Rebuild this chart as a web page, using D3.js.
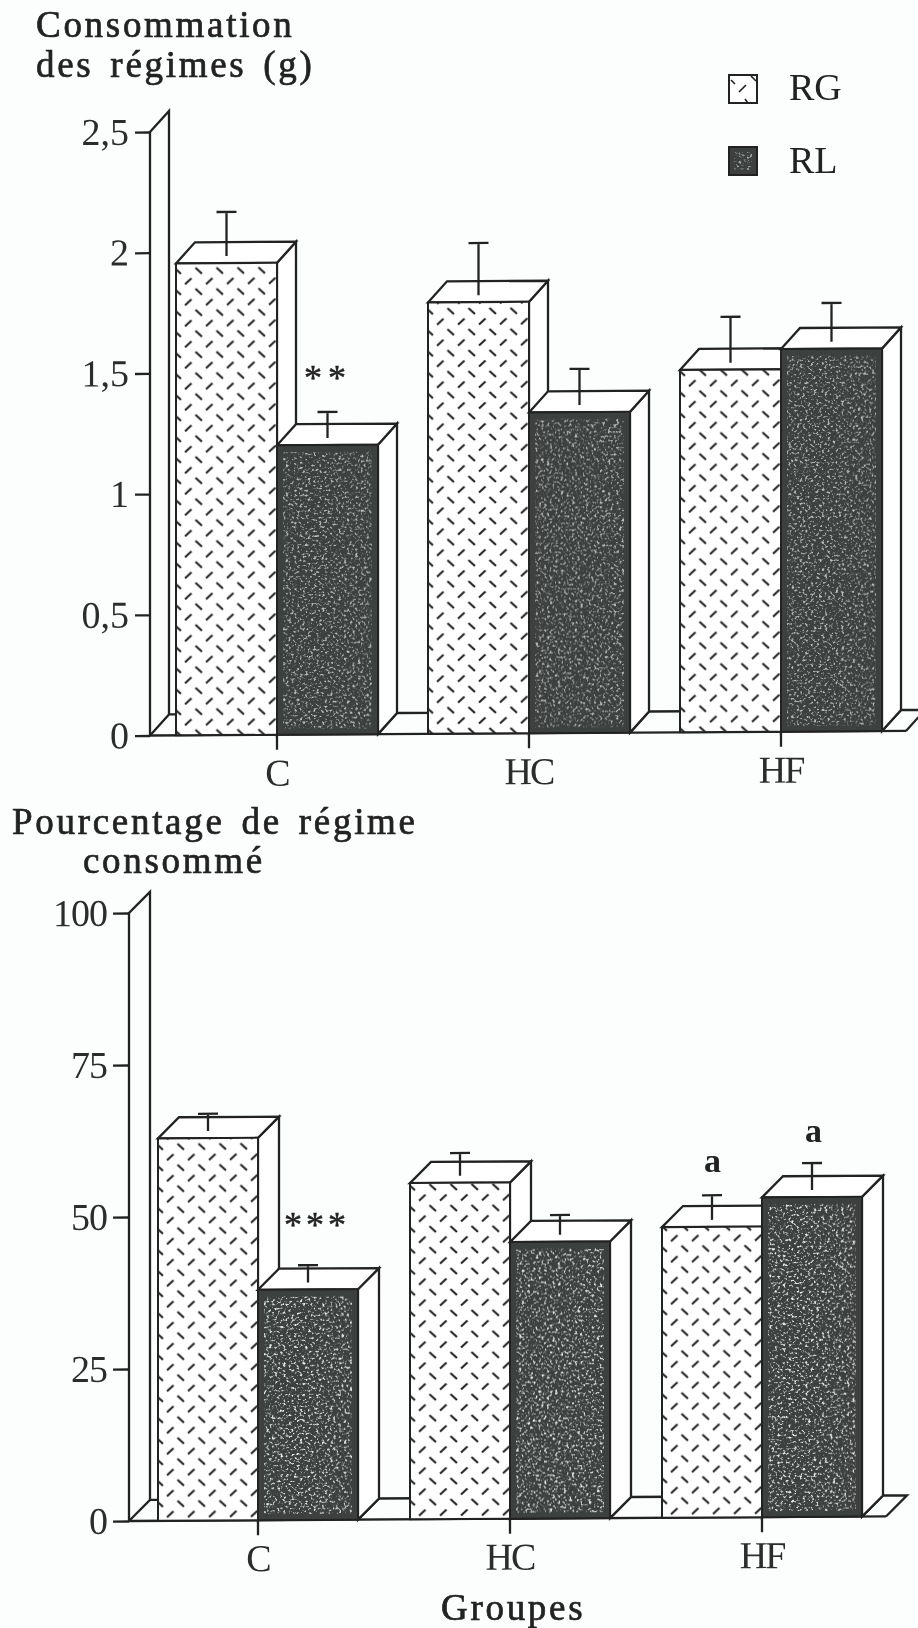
<!DOCTYPE html>
<html>
<head>
<meta charset="utf-8">
<script src="https://cdn.jsdelivr.net/npm/d3@7"></script>
<style>
html, body { margin: 0; padding: 0; background: #fcfefe; }
svg { display: block; filter: blur(0.45px); }
text { font-family: "Liberation Serif", serif; fill: #222; }
.title { font-size: 37px; letter-spacing: 2.7px; stroke: #222; stroke-width: 0.7px; }
.tick text { font-family: "Liberation Serif", serif; font-size: 38px; fill: #2c2c2c; }
.x-axis .tick text { letter-spacing: -2px; }
.tick line { stroke: #222; stroke-width: 2.3px; }
.wire { fill: none; stroke: #222; stroke-width: 2.3px; stroke-linejoin: miter; }
.stars { font-size: 36px; stroke: #222; stroke-width: 0.5px; }
.mark { font-size: 34px; font-weight: bold; }
</style>
</head>
<body>
<svg id="chart" width="918" height="1628"></svg>
<script>
let groups = ['C', 'HC', 'HF']
let series = ['RG', 'RL']

// values
let intakeRG = [1.955, 1.787, 1.501]
let intakeRL = [1.199, 1.329, 1.585]
let intakeRGErr = [2.167, 2.032, 1.72]
let intakeRLErr = [1.336, 1.508, 1.775]
let intakeTicks = [0, 0.5, 1, 1.5, 2, 2.5]

let percentRG = [62.9, 55.3, 47.8]
let percentRL = [37.9, 45.5, 52.6]
let percentRGErr = [66.9, 60.2, 53]
let percentRLErr = [41.9, 49.9, 58.2]
let percentTicks = [0, 25, 50, 75, 100]

let svg = d3.select('#chart')
let defs = svg.append('defs')

// scan slope: the baseline climbs slightly to the right
let slope = 0.006

let specks = defs.append('filter')
    .attr('id', 'specks')
    .attr('x', 0).attr('y', 0).attr('width', 1).attr('height', 1)
specks.append('feTurbulence')
    .attr('type', 'fractalNoise')
    .attr('baseFrequency', '0.36 0.44')
    .attr('numOctaves', 2)
    .attr('seed', 7)
specks.append('feColorMatrix')
    .attr('values', '0 0 0 0 0.88  0 0 0 0 0.9  0 0 0 0 0.9  5 0 0 0 -2.7')
specks.append('feGaussianBlur').attr('stdDeviation', 0.35)
specks.append('feComposite')
    .attr('in2', 'SourceAlpha')
    .attr('operator', 'in')

function hatch(id, ox, oy) {
    let p = defs.append('pattern')
        .attr('id', id)
        .attr('patternUnits', 'userSpaceOnUse')
        .attr('x', ox).attr('y', oy)
        .attr('width', 21).attr('height', 21)
    p.append('rect').attr('width', 21).attr('height', 21).attr('fill', '#fff')
    p.append('path')
        .attr('d', 'M2 8.5L8.5 2.5M12.5 13L19 19')
        .attr('stroke', '#222')
        .attr('stroke-width', 2.1)
        .attr('fill', 'none')
}

function drawPanel(cfg) {
    let id = cfg.id
    hatch('hatch-' + id, cfg.hatchX, cfg.hatchY)

    let x0 = d3.scaleBand().domain(groups).range(cfg.xRange)
    let x1 = d3.scaleBand().domain(series).range([-cfg.barW, cfg.barW])
    let y = d3.scaleLinear().domain(cfg.yDomain).range(cfg.yRange)
    let base = y(0)
    let dx = cfg.dx, dy = cfg.dy
    let left = cfg.axisX

    let g = svg.append('g')
        .attr('transform', `matrix(1,${-slope},0,1,0,${slope * left})`)

    // wall and floor
    let top = y(cfg.yDomain[1])
    g.append('path').attr('class', 'wire')
        .attr('d', `M${left} ${base}V${top}L${left + dx} ${top - dy}V${base - dy}M${left} ${base}L${left + dx} ${base - dy}H${left + dx + 8}`)

    let rows = []
    groups.forEach((grp, i) => {
        rows.push({group: grp, s: 'RG', v: cfg.rg[i], e: cfg.rgErr[i]})
        rows.push({group: grp, s: 'RL', v: cfg.rl[i], e: cfg.rlErr[i]})
    })
    let xOf = d => x0(d.group) + x0.bandwidth() / 2 + x1(d.s)
    let w = x1.bandwidth()

    // floor strips between the groups, closed after the last one
    groups.forEach((grp, i) => {
        let r = x0(grp) + x0.bandwidth() / 2 + cfg.barW
        let strip = `M${r} ${base}L${r + dx} ${base - dy}`
        strip += i < groups.length - 1 ? 'H' + (r + dx + 40) : `H${r + dx + 24}L${r + 24} ${base}`
        g.append('path').attr('class', 'wire').attr('d', strip)
    })

    g.append('line').attr('class', 'wire')
        .attr('x1', left).attr('x2', x0(groups[2]) + x0.bandwidth() / 2 + cfg.barW + 24)
        .attr('y1', base).attr('y2', base)

    let bars = g.selectAll('g.bar').data(rows).enter().append('g').attr('class', 'bar')

    // side face
    bars.append('path').attr('class', 'wire').style('fill', '#fff')
        .attr('d', d => `M${xOf(d) + w} ${base}L${xOf(d) + w + dx} ${base - dy}V${y(d.v) - dy}L${xOf(d) + w} ${y(d.v)}Z`)
    // top face
    bars.append('path').attr('class', 'wire').style('fill', '#fff')
        .attr('d', d => `M${xOf(d)} ${y(d.v)}L${xOf(d) + dx} ${y(d.v) - dy}H${xOf(d) + w + dx}L${xOf(d) + w} ${y(d.v)}Z`)
    // front face
    bars.append('rect')
        .attr('x', d => xOf(d))
        .attr('y', d => y(d.v))
        .attr('width', w)
        .attr('height', d => base - y(d.v))
        .attr('fill', d => d.s === 'RG' ? `url(#hatch-${id})` : '#3c413f')
        .attr('stroke', '#222')
        .attr('stroke-width', 2)
    bars.filter(d => d.s === 'RL').append('rect')
        .attr('x', d => xOf(d) + 6)
        .attr('y', d => y(d.v) + 7)
        .attr('width', w - 12)
        .attr('height', d => base - y(d.v) - 13)
        .attr('fill', '#fff')
        .attr('opacity', cfg.speckOpacity)
        .attr('filter', 'url(#specks)')

    // error bars
    bars.append('path').attr('class', 'wire')
        .attr('d', d => {
            let c = xOf(d) + w / 2
            return `M${c} ${y(d.v) - 7}V${y(d.e)}M${c - 10} ${y(d.e)}H${c + 10}`
        })

    // axes
    let yAxis = d3.axisLeft(y)
        .tickValues(cfg.ticks)
        .tickSize(cfg.tickLen)
        .tickPadding(6)
        .tickFormat(d => String(d).replace('.', ','))
    g.append('g').attr('class', 'y-axis')
        .attr('transform', `translate(${left},0)`)
        .call(yAxis)
        .call(a => a.select('.domain').remove())
        .call(a => a.selectAll('text').style('letter-spacing', cfg.tickSpacing))

    let xAxis = d3.axisBottom(x0).tickSize(15).tickPadding(9)
    g.append('g').attr('class', 'x-axis')
        .attr('transform', `translate(0,${base})`)
        .call(xAxis)
        .call(a => a.select('.domain').remove())
}

drawPanel({
    id: 'a', rg: intakeRG, rl: intakeRL, rgErr: intakeRGErr, rlErr: intakeRLErr, ticks: intakeTicks,
    xRange: [151, 907], axisX: 150, barW: 101,
    yDomain: [0, 2.5], yRange: [735.5, 132],
    dx: 19, dy: 21, tickLen: 15, tickSpacing: '0px', speckOpacity: 0.7, hatchX: 183, hatchY: 276
})
drawPanel({
    id: 'b', rg: percentRG, rl: percentRL, rgErr: percentRGErr, rlErr: percentRLErr, ticks: percentTicks,
    xRange: [132, 888], axisX: 129, barW: 100,
    yDomain: [0, 100], yRange: [1521, 913],
    dx: 21, dy: 21, tickLen: 16, tickSpacing: '-1px', speckOpacity: 0.95, hatchX: 165, hatchY: 1152
})

function label(txt, x, y, cls) {
    return svg.append('text').attr('class', cls || 'title').attr('x', x).attr('y', y).text(txt)
}

label('Consommation', 36, 37)
label('des régimes (g)', 36, 77).style('word-spacing', '5px')
label('Pourcentage de régime', 12, 834).style('word-spacing', '5px')
label('consommé', 83, 873)
label('Groupes', 441, 1620)

// legend
let legendBoxes = [['RG', 75, 100], ['RL', 147, 173]]
legendBoxes.forEach(([name, by, ty]) => {
    svg.append('rect')
        .attr('x', 729).attr('y', by).attr('width', 28).attr('height', 28)
        .attr('fill', name === 'RG' ? '#fff' : '#3c413f')
        .attr('stroke', '#222').attr('stroke-width', 2)
    svg.append('text').attr('x', 789).attr('y', ty)
        .style('font-size', '38px').text(name)
})
svg.append('rect')
    .attr('x', 734).attr('y', 152).attr('width', 18).attr('height', 18)
    .attr('fill', '#fff').attr('opacity', 0.6).attr('filter', 'url(#specks)')
svg.append('path').attr('class', 'wire').style('stroke-width', 1.6)
    .attr('d', 'M739 92L746 85M731 80L735 84M751 76L756 81M748 103L745 99')

// significance marks
label('**', 304, 390, 'stars').style('letter-spacing', '6px')
label('***', 284, 1237, 'stars').style('letter-spacing', '4px')
label('a', 704, 1172, 'mark')
label('a', 805, 1142, 'mark')
</script>
</body>
</html>
